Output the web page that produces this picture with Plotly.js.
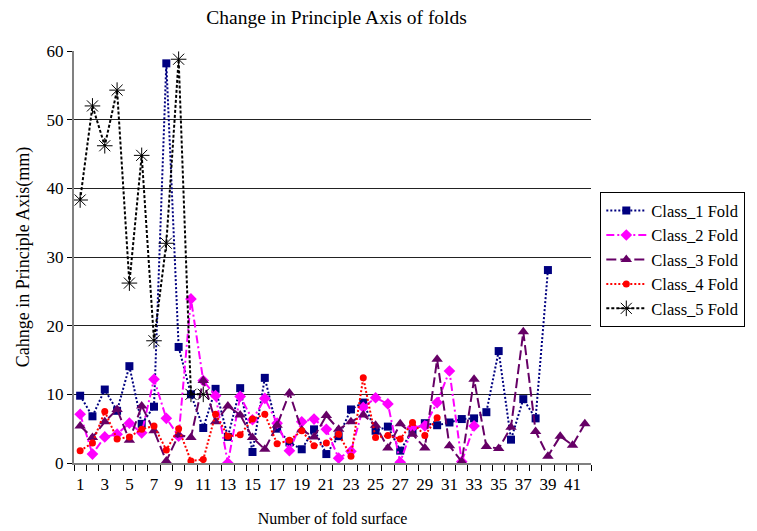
<!DOCTYPE html>
<html>
<head>
<meta charset="utf-8">
<script src="https://cdn.plot.ly/plotly-3.0.1.min.js"></script>
<style>html,body{margin:0;padding:0;background:#fff;}#chart{width:757px;height:531px;}</style>
</head>
<body>
<div id="chart"></div>
<script>
const foldSurface = [1,2,3,4,5,6,7,8,9,10,11,12,13,14,15,16,17,18,19,20,21,22,23,24,25,26,27,28,29,30,31,32,33,34,35,36,37,38,39,40,41,42];
const xTickVals = [1,3,5,7,9,11,13,15,17,19,21,23,25,27,29,31,33,35,37,39,41];
const xTickText = ["1","3","5","7","9","11","13","15","17","19","21","23","25","27","29","31","33","35","37","39","41"];

const class1 = [9.8,6.8,10.7,7.6,14.1,5.7,8.2,58.2,16.9,10.0,5.1,10.8,3.8,10.9,1.6,12.4,5.0,3.0,2.0,4.9,1.3,3.9,7.8,8.8,4.7,5.3,1.8,4.7,5.8,5.5,5.9,6.4,6.5,7.4,16.3,3.4,9.3,6.5,28.1];
const class2 = [7.1,1.3,3.8,4.2,5.8,4.4,12.2,6.5,3.9,23.9,12.0,9.8,0.0,9.7,6.3,9.4,5.8,1.8,6.0,6.4,4.9,0.7,1.7,8.1,9.5,8.6,0.1,5.2,5.4,8.8,13.4,0.2,5.4];
const class3 = [5.4,3.7,6.0,7.8,3.3,8.3,4.7,0.3,4.1,3.7,12.0,6.0,8.3,7.0,3.7,2.0,5.5,10.2,4.8,3.8,6.9,4.9,6.0,7.0,5.5,2.2,5.7,4.2,2.2,15.1,2.5,0.2,12.2,2.4,2.1,5.2,19.1,4.6,1.0,3.9,2.6,5.7];
const class4 = [1.8,2.9,7.5,3.5,3.8,4.9,5.4,1.9,5.0,0.3,0.5,7.1,3.9,4.1,6.4,7.1,2.8,3.3,4.7,2.5,2.9,4.2,1.0,12.4,3.7,4.0,3.5,5.9,4.0,6.6];
const class5 = [38.3,52.0,46.2,54.3,26.2,44.8,17.8,32.0,58.8,10.0,10.0];

const seriesNames = ["Class_1 Fold","Class_2 Fold","Class_3 Fold","Class_4 Fold","Class_5 Fold"];

const FONT = "'Liberation Serif', 'Times New Roman', serif";

const traces = [
  {x: foldSurface.slice(0, class1.length), y: class1, name: seriesNames[0], mode: "lines+markers",
   line: {color: "#000080", width: 2, dash: "2px,2px"},
   marker: {symbol: "square", size: 8, color: "#000080"}},
  {x: foldSurface.slice(0, class2.length), y: class2, name: seriesNames[1], mode: "lines+markers",
   line: {color: "#FF00FF", width: 2, dash: "8px,3px,2px,3px"},
   marker: {symbol: "diamond", size: 9, color: "#FF00FF"}},
  {x: foldSurface.slice(0, class3.length), y: class3, name: seriesNames[2], mode: "lines+markers",
   line: {color: "#660066", width: 2, dash: "10px,4px"},
   marker: {symbol: "triangle-up", size: 10, color: "#660066"}},
  {x: foldSurface.slice(0, class4.length), y: class4, name: seriesNames[3], mode: "lines+markers",
   line: {color: "#FF0000", width: 2, dash: "2px,2px"},
   marker: {symbol: "circle", size: 7, color: "#FF0000"}},
  {x: foldSurface.slice(0, class5.length), y: class5, name: seriesNames[4], mode: "lines+markers",
   line: {color: "#000000", width: 2, dash: "3px,2px"},
   marker: {symbol: "asterisk-open", size: 13, color: "#000000", line: {color: "#000000", width: 1}}}
];

const layout = {
  width: 757, height: 531,
  margin: {l: 74, r: 163, t: 51, b: 68},
  paper_bgcolor: "#ffffff", plot_bgcolor: "#ffffff",
  font: {family: FONT, color: "#000000", size: 16},
  title: {text: "Change in Principle Axis of folds", x: 0.508, xref: "paper", xanchor: "center", y: 0.968, yanchor: "middle",
          font: {family: FONT, size: 19.5, color: "#000"}},
  xaxis: {
    range: [0.5, 42.5], tickmode: "array", tickvals: xTickVals, ticktext: xTickText,
    ticks: "", showgrid: false, zeroline: false,
    showline: true, linecolor: "#808080", linewidth: 2,
    tickfont: {family: FONT, size: 17}, ticklabelstandoff: 5,
    minor: {tickmode: "linear", tick0: 0.5, dtick: 1, ticks: "outside", ticklen: 6, tickcolor: "#000", tickwidth: 1, showgrid: false},
    title: {text: "Number of fold surface", font: {family: FONT, size: 16}, standoff: 19}
  },
  yaxis: {
    range: [0, 60], dtick: 10, tick0: 0,
    ticks: "outside", ticklen: 5, tickcolor: "#000",
    showgrid: true, gridcolor: "#222", gridwidth: 1, zeroline: false,
    showline: true, linecolor: "#808080", linewidth: 2,
    tickfont: {family: FONT, size: 17},
    title: {text: "Cahnge in Principle Axis(mm)", font: {family: FONT, size: 18}, standoff: 12}
  },
  legend: {
    x: 1.018, xanchor: "left", y: 0.657, yanchor: "top",
    bgcolor: "#fff", bordercolor: "#000", borderwidth: 1,
    font: {family: FONT, size: 16.5}, itemwidth: 40, tracegroupgap: 0
  },
  showlegend: true
};

Plotly.newPlot("chart", traces, layout, {displayModeBar: false, staticPlot: true});
</script>
</body>
</html>
